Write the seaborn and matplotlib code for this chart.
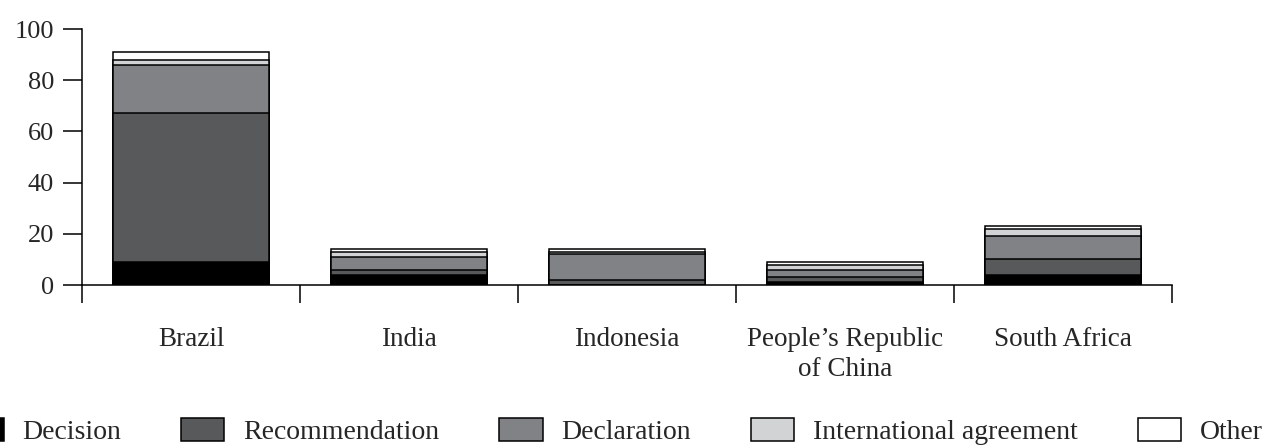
import matplotlib
matplotlib.use("Agg")
import matplotlib.pyplot as plt
from matplotlib.patches import Patch
import seaborn as sns
import numpy as np
import pandas as pd

countries = ["Brazil", "India", "Indonesia", "People\u2019s Republic\nof China", "South Africa"]
decision = [9, 4, 0, 1, 4]
recommendation = [58, 2, 2, 2, 6]
declaration = [19, 5, 10, 3, 9]
international_agreement = [2, 2, 1, 2, 3]
other = [3, 1, 1, 1, 1]

series_names = ["Decision", "Recommendation", "Declaration", "International agreement", "Other"]
series_values = [decision, recommendation, declaration, international_agreement, other]
colors = ["#000000", "#58595b", "#808285", "#d1d3d4", "#ffffff"]

sns.set_theme(style="white")
plt.rcParams["font.family"] = ["Liberation Serif", "DejaVu Serif"]
plt.rcParams["font.size"] = 19

fig = plt.figure(figsize=(12.71, 4.45), dpi=100)
ax = fig.add_axes([82 / 1271, 1 - 285 / 445, (1172 - 82) / 1271, (285 - 29) / 445])

cum = np.cumsum(np.array(series_values), axis=0)
for i in range(len(series_names) - 1, -1, -1):
    df = pd.DataFrame({"country": countries, "value": cum[i]})
    sns.barplot(data=df, x="country", y="value", color=colors[i], width=0.72,
                edgecolor="black", linewidth=1.1, saturation=1, ax=ax, zorder=2)

ax.set_xlim(-0.5, 4.5)
ax.set_ylim(0, 100)
ax.set_xlabel("")
ax.set_ylabel("")
for s in ["top", "right"]:
    ax.spines[s].set_visible(False)
for s in ["left", "bottom"]:
    ax.spines[s].set_color("black")
    ax.spines[s].set_linewidth(1.1)

ax.set_yticks([0, 20, 40, 60, 80, 100])
ax.tick_params(axis="y", direction="out", length=14, width=1.1, color="black",
               labelsize=19, pad=6, left=True)
ax.set_xticks(np.arange(-0.5, 5, 1))
ax.set_xticklabels([])
ax.set_xticks(np.arange(0, 5), minor=True)
ax.set_xticklabels(countries, minor=True, fontsize=19.5, linespacing=1.3)
ax.tick_params(axis="x", which="major", direction="out", length=13, width=1.1,
               color="black", bottom=True)
ax.tick_params(axis="x", which="minor", length=0, pad=30)

handles = [Patch(facecolor=c, edgecolor="black", linewidth=1.1, label=n)
           for c, n in zip(colors, series_names)]
fig.legend(handles=handles, loc="lower left", bbox_to_anchor=(-0.031, 0.0),
           ncol=5, frameon=False, fontsize=20, handlelength=1.55,
           handleheight=0.86, handletextpad=0.68, columnspacing=2.16,
           borderpad=0, borderaxespad=0)

fig.savefig("out.png", dpi=100)
